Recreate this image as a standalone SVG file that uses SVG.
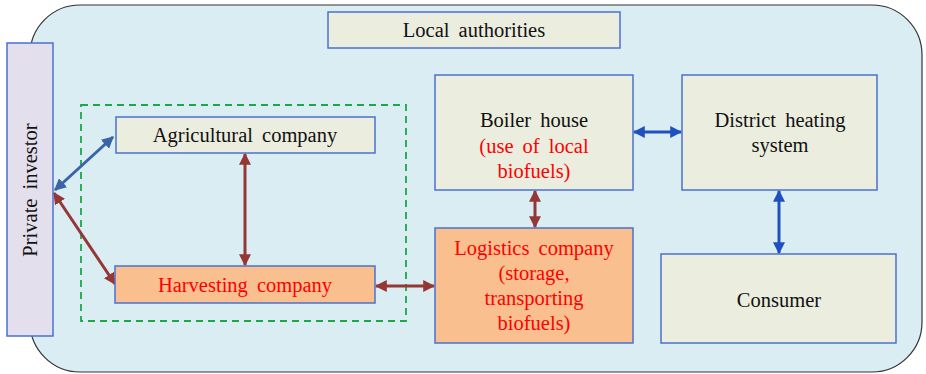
<svg xmlns="http://www.w3.org/2000/svg" width="926" height="374" viewBox="0 0 926 374">
<defs>
<style>
.box{stroke:#4a72d0;stroke-width:1.5}
.lt{fill:#ebeddf}
.or{fill:#f9bf8f}
text{font-family:'Liberation Serif','Times New Roman',serif;font-size:20.5px;text-anchor:middle;fill:#111;word-spacing:4px}
text.r{fill:#ff0000}
.cr{stroke:#953735;stroke-width:3;fill:none}
.cb{stroke:#3a64a8;stroke-width:3;fill:none}
.cbb{stroke:#2050c0;stroke-width:3;fill:none}
</style>
<marker id="mr" viewBox="0 0 10 10" refX="9" refY="5" markerWidth="4" markerHeight="4" orient="auto-start-reverse" markerUnits="strokeWidth"><path d="M0,0 L10,5 L0,10 z" fill="#953735"/></marker>
<marker id="mb" viewBox="0 0 10 10" refX="9" refY="5" markerWidth="4" markerHeight="4" orient="auto-start-reverse" markerUnits="strokeWidth"><path d="M0,0 L10,5 L0,10 z" fill="#3a64a8"/></marker>
<marker id="mbb" viewBox="0 0 10 10" refX="9" refY="5" markerWidth="4" markerHeight="4" orient="auto-start-reverse" markerUnits="strokeWidth"><path d="M0,0 L10,5 L0,10 z" fill="#2050c0"/></marker>
</defs>
<rect x="0" y="0" width="926" height="374" fill="#ffffff"/>
<rect id="frame" x="30" y="5" width="892" height="367" rx="50" ry="50" fill="#daedf3" stroke="#333" stroke-width="1.2"/>
<rect id="group" x="81" y="105" width="325" height="216" fill="none" stroke="#1aa84a" stroke-width="1.8" stroke-dasharray="7,5"/>
<g id="connectors">
<line class="cb" x1="55" y1="190" x2="113" y2="137" marker-start="url(#mb)" marker-end="url(#mb)"/>
<line class="cr" x1="54" y1="193" x2="115" y2="284" marker-start="url(#mr)" marker-end="url(#mr)"/>
<line class="cr" x1="245" y1="154" x2="245" y2="265" marker-start="url(#mr)" marker-end="url(#mr)"/>
<line class="cr" x1="376" y1="286" x2="434" y2="286" marker-start="url(#mr)" marker-end="url(#mr)"/>
<line class="cr" x1="535" y1="191" x2="535" y2="227" marker-start="url(#mr)" marker-end="url(#mr)"/>
<line class="cbb" x1="634" y1="132" x2="681" y2="132" marker-start="url(#mbb)" marker-end="url(#mbb)"/>
<line class="cbb" x1="779" y1="191" x2="779" y2="253" marker-start="url(#mbb)" marker-end="url(#mbb)"/>
</g>
<g id="private-investor">
<rect class="box" x="7" y="43" width="46" height="293" fill="#e4dfec"/>
<text transform="translate(37,190) rotate(-90)">Private investor</text>
</g>
<g id="local-authorities">
<rect class="box lt" x="328" y="12" width="292" height="36"/>
<text x="474" y="37">Local authorities</text>
</g>
<g id="agricultural">
<rect class="box lt" x="116" y="117" width="259" height="36"/>
<text x="245" y="142">Agricultural company</text>
</g>
<g id="harvesting">
<rect class="box or" x="115" y="266" width="260" height="37"/>
<text class="r" x="245" y="292">Harvesting company</text>
</g>
<g id="boiler">
<rect class="box lt" x="435" y="75" width="198" height="115"/>
<text x="534" y="127">Boiler house</text>
<text class="r" x="534" y="153">(use of local</text>
<text class="r" x="534" y="178">biofuels)</text>
</g>
<g id="logistics">
<rect class="box or" x="435" y="228" width="198" height="115"/>
<text class="r" x="534" y="255">Logistics company</text>
<text class="r" x="534" y="280">(storage,</text>
<text class="r" x="534" y="305">transporting</text>
<text class="r" x="534" y="330">biofuels)</text>
</g>
<g id="district-heating">
<rect class="box lt" x="682" y="75" width="195" height="115"/>
<text x="780" y="127">District heating</text>
<text x="780" y="152">system</text>
</g>
<g id="consumer">
<rect class="box lt" x="661" y="254" width="235" height="89"/>
<text x="779" y="307">Consumer</text>
</g>
</svg>
